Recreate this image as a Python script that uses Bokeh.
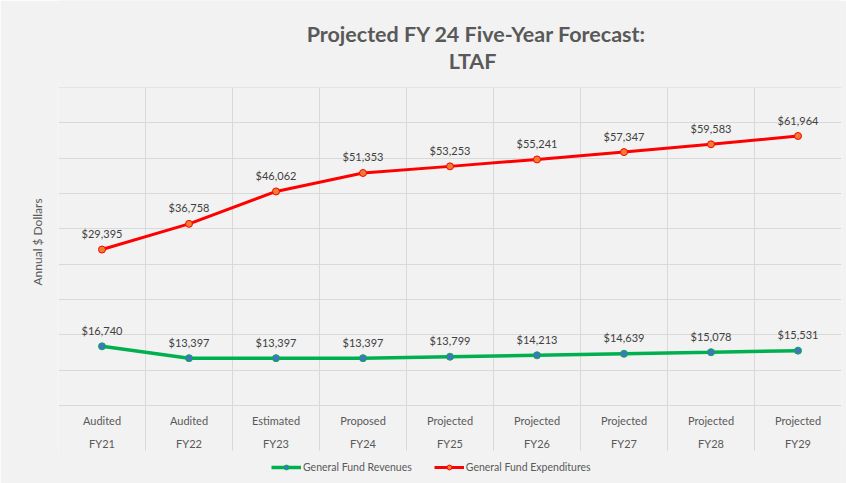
from bokeh.plotting import figure
from bokeh.models import (Range1d, FixedTicker, Legend, LegendItem, Title, Label,
                          ColumnDataSource, BoxAnnotation)
from bokeh.core.properties import value
from bokeh.embed import file_html
from bokeh.resources import INLINE

# ---- data ----
stages = ["Audited", "Audited", "Estimated", "Proposed", "Projected",
          "Projected", "Projected", "Projected", "Projected"]
years = ["FY21", "FY22", "FY23", "FY24", "FY25", "FY26", "FY27", "FY28", "FY29"]
revenues = [16740, 13397, 13397, 13397, 13799, 14213, 14639, 15078, 15531]
expenditures = [29395, 36758, 46062, 51353, 53253, 55241, 57347, 59583, 61964]
y_ticks = [0, 10000, 20000, 30000, 40000, 50000, 60000, 70000, 80000, 90000]
series_names = ["General Fund Revenues", "General Fund Expenditures"]
title_lines = ["Projected FY 24 Five-Year Forecast:", "LTAF"]
y_title = "Annual $ Dollars"

# ---- style ----
FONT = "Lato"
TXT = "#595959"
LBL = "#404040"
GRID = "#D9D9D9"
BG = "#F2F2F2"
GREEN = "#00B050"
RED = "#FF0000"

n = len(years)
centers = [i + 0.5 for i in range(n)]
bounds = list(range(n + 1))
baseline = [y_ticks[0]] * n

# The frame spans the whole height: title band on top, the gridded plot area,
# then the category-label band and the legend below y=0.
p = figure(width=846, height=483, title=None, output_backend="svg",
           toolbar_location=None, x_axis_location=None, y_axis_location=None,
           x_range=Range1d(0, n), y_range=Range1d(-22075, 114623),
           min_border_left=58, min_border_right=5, min_border_top=0,
           min_border_bottom=0,
           background_fill_color=BG, border_fill_color=BG,
           outline_line_color=None)
p.extra_y_ranges = {"exp": Range1d(-37719, 100835)}

# grids
p.xgrid.ticker = FixedTicker(ticks=bounds)
p.ygrid.ticker = FixedTicker(ticks=y_ticks)
p.grid.grid_line_color = GRID
p.grid.grid_line_width = 1

# series
g_line = p.line(centers, revenues, line_color=GREEN, line_width=3.5)
g_pts = p.scatter(centers, revenues, size=7, fill_color="#4472C4",
                  line_color=GREEN, line_width=1)
r_line = p.line(centers, expenditures, line_color=RED, line_width=3,
                y_range_name="exp")
r_pts = p.scatter(centers, expenditures, size=7, fill_color="#ED7D31",
                  line_color=RED, line_width=1, y_range_name="exp")

# data labels
rev_src = ColumnDataSource(dict(x=centers, y=revenues,
                                t=[f"${v:,}" for v in revenues]))
exp_src = ColumnDataSource(dict(x=centers, y=expenditures,
                                t=[f"${v:,}" for v in expenditures]))
for src, rng in ((rev_src, "default"), (exp_src, "exp")):
    p.text("x", "y", text="t", source=src, y_range_name=rng,
           text_align="center", text_baseline="middle", y_offset=-16,
           text_font=value(FONT), text_font_size="11px", text_color=LBL)

# category labels (two rows under the y=0 axis line)
cat_src = ColumnDataSource(dict(x=centers, y=baseline, stage=stages, year=years))
p.text("x", "y", text="stage", source=cat_src, text_align="center",
       text_baseline="middle", y_offset=15, text_font=value(FONT),
       text_font_size="11px", text_color=TXT)
p.text("x", "y", text="year", source=cat_src, text_align="center",
       text_baseline="middle", y_offset=38, text_font=value(FONT),
       text_font_size="11px", text_color=TXT)

# keep the category separators inside the plot/label bands only
p.add_layout(BoxAnnotation(bottom=0, top=33, bottom_units="screen",
                           top_units="screen", fill_color=BG, fill_alpha=1,
                           line_color=None))
p.add_layout(BoxAnnotation(bottom=396, bottom_units="screen", fill_color=BG,
                           fill_alpha=1, line_color=None))

# title
p.add_layout(Label(x=418, y=450, x_units="screen", y_units="screen",
                   text=title_lines[0], text_align="center",
                   text_baseline="middle", text_font=FONT,
                   text_font_size="21.5px", text_font_style="bold",
                   text_color=TXT))
p.add_layout(Label(x=414, y=423, x_units="screen", y_units="screen",
                   text=title_lines[1], text_align="center",
                   text_baseline="middle", text_font=FONT,
                   text_font_size="21.5px", text_font_style="bold",
                   text_color=TXT))

# legend
legend = Legend(items=[LegendItem(label=series_names[0], renderers=[g_line, g_pts]),
                       LegendItem(label=series_names[1], renderers=[r_line, r_pts])],
                orientation="horizontal", location=(213, 10),
                background_fill_alpha=0, border_line_color=None,
                label_text_font=FONT, label_text_font_size="10.5px",
                label_text_color=TXT, glyph_width=30, glyph_height=12,
                label_standoff=2, spacing=22, padding=0, margin=0,
                label_height=12)
p.add_layout(legend, "center")

# vertical axis title
p.add_layout(Title(text=y_title, align="left", offset=198, standoff=28,
                   text_font=FONT, text_font_size="12px",
                   text_font_style="normal", text_color=TXT), "left")

open("out.html", "w").write(file_html(p, INLINE))
